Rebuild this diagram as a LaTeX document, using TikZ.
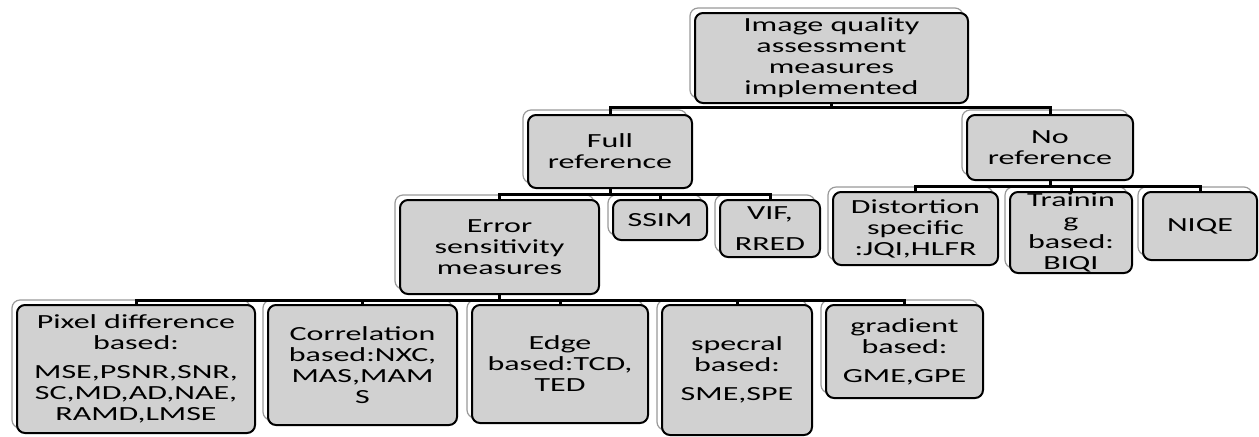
\documentclass[tikz,border=0pt]{standalone}
\usepackage{fontspec}
\setmainfont[FakeStretch=1.6]{Carlito}
\usetikzlibrary{shadows}

\begin{document}
\begin{tikzpicture}[x=0.5pt, y=-0.5pt,
  every node/.style={font=\fontsize{10}{10.5}\selectfont},
  box/.style={draw, line width=1pt, rounded corners=4pt, fill=black!18,
    align=center, inner sep=0pt,
    general shadow={fill=white, draw=black!40, line width=0.6pt,
      shadow xshift=-2.5pt, shadow yshift=2.5pt}},
  link/.style={line width=1.5pt}]
  \useasboundingbox (0,0) rectangle (1259,436);

  % top and first level
  \node[box, minimum width=136.5pt, minimum height=45pt] (root) at (831.5,58)
    {Image quality\\assessment\\measures\\implemented};
  \node[box, minimum width=82pt, minimum height=36.5pt] (full) at (610,151.5)
    {Full\\reference};
  \node[box, minimum width=83pt, minimum height=32.5pt] (noref) at (1050,147.5)
    {No\\reference};

  % full reference branch
  \node[box, minimum width=99.5pt, minimum height=47pt] (err) at (499.5,247)
    {Error\\sensitivity\\measures};
  \node[box, minimum width=47pt, minimum height=20pt] (ssim) at (660,220) {SSIM};
  \node[box, minimum width=50pt, minimum height=28.5pt] (vif) at (770,228.5)
    {VIF,\\[5pt]RRED};

  % no reference branch
  \node[box, minimum width=82.5pt, minimum height=36.5pt] (dist) at (915.5,228.5)
    {Distortion\\specific\\:JQI,HLFR};
  \node[box, minimum width=61pt, minimum height=40.5pt] (train) at (1071,232.5)
    {Trainin\\g\\based:\\BIQI};
  \node[box, minimum width=57pt, minimum height=34pt] (niqe) at (1200,226) {NIQE};

  % error sensitivity measures
  \node[box, minimum width=119pt, minimum height=64pt] (pix) at (136,369)
    {Pixel difference\\based:\\[4pt]MSE,PSNR,SNR,\\SC,MD,AD,NAE,\\RAMD,LMSE};
  \node[box, minimum width=94.5pt, minimum height=60pt] (corr) at (362.5,365)
    {Correlation\\based:NXC,\\MAS,MAM\\S};
  \node[box, minimum width=88pt, minimum height=59pt] (edge) at (560,364)
    {Edge\\based:TCD,\\TED};
  \node[box, minimum width=75pt, minimum height=65pt] (spec) at (737,370)
    {specral\\based:\\[4pt]SME,SPE};
  \node[box, minimum width=78.5pt, minimum height=46.5pt] (grad) at (904.5,351.5)
    {gradient\\based:\\[4pt]GME,GPE};

  \draw[link] (root.south) -- ++(0,3) -| (full.north);
  \draw[link] (root.south) -- ++(0,3) -| (noref.north);

  \foreach \c in {err,ssim,vif}
    \draw[link] (full.south) -- ++(0,5) -| (\c.north);
  \foreach \c in {dist,train,niqe}
    \draw[link] (noref.south) -- ++(0,5) -| (\c.north);
  \foreach \c in {pix,corr,edge,spec,grad}
    \draw[link] (err.south) -- ++(0,5) -| (\c.north);
\end{tikzpicture}
\end{document}
